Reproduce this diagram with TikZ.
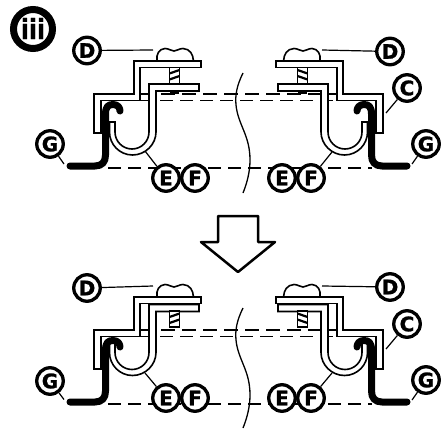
\documentclass[tikz,border=0pt]{standalone}
\usepackage{fontspec}
\setmainfont{DejaVu Sans}
\newfontfamily\lblfont{DejaVu Sans}[BoldFeatures={FakeBold=1.2}]
\newfontfamily\badgefont{DejaVu Sans}[BoldFeatures={FakeBold=0.4}]
\tikzset{
  part/.style={draw=black,fill=white,line width=1.6pt,line join=miter},
  gpart/.style={draw=black,line width=7pt,line cap=round,line join=round},
  lead/.style={draw=black,line width=1.2pt},
  dashrow/.style={draw=black,line width=1.3pt,dash pattern=on 14pt off 7pt},
  dashlow/.style={draw=black,line width=1.3pt,dash pattern=on 13pt off 7pt},
  breakline/.style={draw=black,line width=1.3pt},
  callout/.style={circle,draw=black,fill=white,line width=3.3pt,minimum size=26.5pt,inner sep=0pt,font=\lblfont\bfseries\fontsize{20}{20}\selectfont},
  blockarrow/.style={draw=black,fill=white,line width=2.5pt,line join=round}
}
\newcommand{\bracketpart}{%
  \path[part] (201,61) -- (134,61) -- (134,94) -- (94,94) -- (94,133) -- (101,133) -- (101,100.5) -- (140,100.5) -- (140,67.5) -- (201,67.5) -- cycle;}
\newcommand{\headpart}{%
  \path[part] (157,61) .. controls (156,54) and (159,49) .. (165,48.5) .. controls (169,48.5) and (171,51) .. (174,51) .. controls (177,51) and (179,48.5) .. (183,48.5) .. controls (190,49) and (193,54) .. (193.5,61) -- cycle;}
\newcommand{\jpart}{%
  \path[part] (199,84) -- (149,84) -- (149,132) .. controls (149,141.4) and (141.4,149) .. (132,149) .. controls (122.6,149) and (115,141.4) .. (115,132) -- (115,122) -- (109.5,122) -- (109.5,132) .. controls (109.5,144.4) and (119.6,155) .. (132.5,155) .. controls (145.4,155) and (156,144.4) .. (156,132) -- (156,91) -- (199,91) -- cycle;}
\newcommand{\gpart}{%
  \path[gpart] (70,166) -- (95,166) .. controls (102,166) and (105.5,162) .. (105.5,155) -- (105.5,114) .. controls (105.5,107) and (108,104.5) .. (113,104.5) .. controls (117.5,104.5) and (120,107.5) .. (120,111);}
\newcommand{\shaftpart}[1]{%
  \begin{scope}[yshift=#1]
  \path[part] (169.5,0) rectangle (179.5,16);
  \path[draw=black,line width=2.2pt] (169.5,6) -- (179.5,2.5);
  \path[draw=black,line width=2.2pt] (169.5,12) -- (179.5,8.5);
  \end{scope}}
\newcommand{\upperhalf}{%
  \shaftpart{-67.5pt}\path[fill=black] (170,91) rectangle (179,93.5);
  \jpart\bracketpart\headpart\gpart}
\newcommand{\lowerhalf}{%
  \begin{scope}[yshift=-220.5pt]\jpart\end{scope}
  \shaftpart{-311pt}\path[draw=black,line width=1.6pt] (170,327) -- (179,327);
  \begin{scope}[yshift=-236pt]\bracketpart\headpart\gpart\end{scope}}
\begin{document}
\begin{tikzpicture}[x=1pt,y=-1pt]
\useasboundingbox (0,0) rectangle (441,428);
\fill[white] (0,0) rectangle (441,428);
% free ends of the dashed rows and the break lines
\coordinate (ua) at (140,94); \coordinate (ub) at (337,94);
\coordinate (uc) at (140,100.5); \coordinate (ud) at (337,100.5);
\coordinate (ue) at (108,168); \coordinate (uf) at (372,168);
\coordinate (la) at (140,330); \coordinate (lb) at (337,330);
\coordinate (lc) at (140,336.5); \coordinate (ld) at (337,336.5);
\coordinate (le) at (108,404); \coordinate (lf) at (372,404);
\draw[dashrow] (ua) -- (ub);
\draw[dashlow] (uc) -- (ud);
\draw[dashlow] (ue) -- (uf);
\draw[dashrow] (la) -- (lb);
\draw[dashlow] (lc) -- (ld);
\draw[dashlow] (le) -- (lf);
\foreach \s in {0,235}{
  \begin{scope}[yshift=-\s pt]
  \path[breakline] (243,73) .. controls (237,85) and (235,95) .. (236,105) .. controls (238,125) and (250,135) .. (250,160) .. controls (250,172) and (247,183) .. (243,193);
  \end{scope}}
% assemblies
\upperhalf
\begin{scope}[shift={(477,0)},xscale=-1]\upperhalf\end{scope}
\lowerhalf
\begin{scope}[shift={(477,0)},xscale=-1]\lowerhalf\end{scope}
% block arrow
\path[blockarrow] (218,216) -- (258,216) -- (258,242) -- (275,242) -- (238,272) -- (201,242) -- (218,242) -- cycle;
% badge
\node[circle,draw=black,fill=white,line width=7pt,minimum size=39pt,inner sep=0pt] (badge) at (33,29) {};
\node[inner sep=0pt,xscale=0.84] (badgetext) at (33,28.5) {\badgefont\bfseries\fontsize{28}{28}\selectfont iii};
% callouts
\node[callout] (d1) at (87,50.5) {D};
\node[callout] (g1) at (50,144) {G};
\node[callout] (e1) at (166,178) {E};
\node[callout] (f1) at (195,178) {F};
\node[callout] (d2) at (390,51.5) {D};
\node[callout] (c1) at (407,88) {C};
\node[callout] (g2) at (426,144) {G};
\node[callout] (e2) at (282,178) {E};
\node[callout] (f2) at (311,178) {F};
\node[callout] (d3) at (87,288) {D};
\node[callout] (g3) at (50,381) {G};
\node[callout] (e3) at (166,398) {E};
\node[callout] (f3) at (195,398) {F};
\node[callout] (d4) at (390,287) {D};
\node[callout] (c2) at (407,324) {C};
\node[callout] (g4) at (426,380) {G};
\node[callout] (e4) at (282,398) {E};
\node[callout] (f4) at (311,398) {F};
% leader ends
\coordinate (pd1) at (153,50); \coordinate (pg1) at (64,164);
\coordinate (pe1) at (145,151);
\coordinate (pd2) at (322,50); \coordinate (pc1) at (386,113);
\coordinate (pg2) at (412,164); \coordinate (pf2) at (332,152);
\coordinate (pd3) at (153,286); \coordinate (pg3) at (64,399.5);
\coordinate (pe3) at (145,373);
\coordinate (pd4) at (322,286); \coordinate (pc2) at (386,349);
\coordinate (pg4) at (412,400); \coordinate (pf4) at (332,373);
\draw[lead] (d1) -- (pd1);
\draw[lead] (g1) -- (pg1);
\draw[lead] (e1) -- (pe1);
\draw[lead] (d2) -- (pd2);
\draw[lead] (c1) -- (pc1);
\draw[lead] (g2) -- (pg2);
\draw[lead] (f2) -- (pf2);
\draw[lead] (d3) -- (pd3);
\draw[lead] (g3) -- (pg3);
\draw[lead] (e3) -- (pe3);
\draw[lead] (d4) -- (pd4);
\draw[lead] (c2) -- (pc2);
\draw[lead] (g4) -- (pg4);
\draw[lead] (f4) -- (pf4);
\end{tikzpicture}
\end{document}
